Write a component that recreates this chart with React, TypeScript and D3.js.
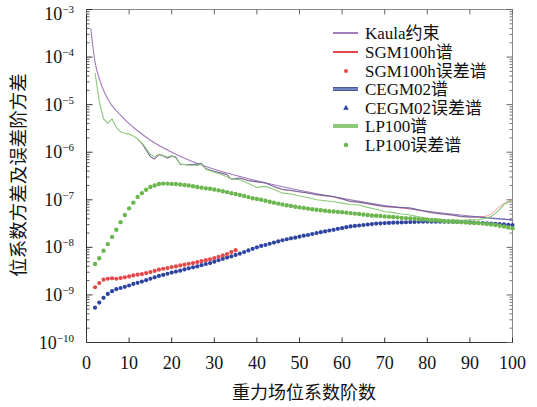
import React from 'react';
import * as d3 from 'd3';

const W = 537;
const H = 407;

const xTickValues = [0, 10, 20, 30, 40, 50, 60, 70, 80, 90, 100];
const yExponents = [-3, -4, -5, -6, -7, -8, -9, -10];

// Kaula constraint (degree, value)
const kaulaDeg = [1, 2, 3, 4, 5, 6, 8, 10, 12, 15, 20, 25, 30, 40, 50, 60, 70, 80, 90, 100];
const kaulaVal = [3.98e-4, 7.94e-5, 3.55e-5, 2.0e-5, 1.32e-5, 9.55e-6, 6.03e-6, 3.98e-6, 2.82e-6, 1.78e-6, 1.0e-6, 6.31e-7, 4.37e-7, 2.51e-7, 1.58e-7, 1.07e-7, 7.59e-8, 5.75e-8, 4.57e-8, 3.8e-8];

// LP100 spectrum
const lpDeg = [2, 3, 4, 5, 6, 7, 8, 9, 10, 11, 12, 13, 14, 15, 16, 17, 18, 19, 20, 21, 22, 24, 26, 27, 28, 30, 32, 34, 36, 38, 40, 42, 44, 46, 48, 50, 52, 54, 56, 58, 60, 62, 64, 66, 68, 70, 72, 74, 76, 78, 80, 82, 84, 86, 88, 90, 92, 94, 95, 96, 97, 98, 99, 100];
const lpVal = [4.68e-5, 1.17e-5, 5.01e-6, 4.07e-6, 5.01e-6, 3.31e-6, 2.69e-6, 2.51e-6, 2.4e-6, 2.19e-6, 1.91e-6, 1.58e-6, 1.2e-6, 8.91e-7, 7.94e-7, 9.12e-7, 8.51e-7, 7.94e-7, 8.51e-7, 7.59e-7, 5.62e-7, 5.37e-7, 5.25e-7, 5.62e-7, 4.37e-7, 3.8e-7, 3.31e-7, 2.75e-7, 2.63e-7, 2.19e-7, 1.82e-7, 1.91e-7, 1.66e-7, 1.38e-7, 1.32e-7, 1.2e-7, 1.12e-7, 1.0e-7, 9.55e-8, 9.12e-8, 8.51e-8, 7.94e-8, 7.76e-8, 6.92e-8, 6.31e-8, 5.62e-8, 5.37e-8, 5.01e-8, 4.79e-8, 4.37e-8, 4.07e-8, 3.98e-8, 3.8e-8, 3.8e-8, 3.72e-8, 3.8e-8, 3.8e-8, 4.17e-8, 4.47e-8, 5.25e-8, 6.31e-8, 7.94e-8, 8.91e-8, 1.0e-7];

// CEGM02 spectrum
const cegmDeg = [12, 13, 14, 15, 16, 17, 18, 19, 20, 21, 22, 24, 26, 27, 28, 30, 32, 33, 34, 36, 38, 40, 42, 44, 46, 48, 50, 52, 54, 56, 58, 60, 62, 64, 66, 68, 70, 72, 74, 76, 78, 80, 82, 84, 86, 88, 90, 92, 94, 96, 98, 100];
const cegmVal = [1.91e-6, 1.55e-6, 1.1e-6, 7.94e-7, 7.24e-7, 8.91e-7, 8.32e-7, 7.59e-7, 8.32e-7, 7.94e-7, 5.5e-7, 5.5e-7, 5.62e-7, 5.89e-7, 4.47e-7, 3.98e-7, 3.55e-7, 3.39e-7, 2.69e-7, 2.88e-7, 2.51e-7, 2.4e-7, 2.24e-7, 1.91e-7, 1.66e-7, 1.58e-7, 1.48e-7, 1.38e-7, 1.29e-7, 1.23e-7, 1.17e-7, 1.05e-7, 9.12e-8, 8.91e-8, 8.32e-8, 7.76e-8, 7.24e-8, 7.08e-8, 6.92e-8, 6.76e-8, 6.17e-8, 5.62e-8, 5.25e-8, 5.01e-8, 4.79e-8, 4.47e-8, 4.37e-8, 4.37e-8, 4.17e-8, 3.98e-8, 3.89e-8, 3.72e-8];

// SGM100h spectrum
const sgmDeg = [12, 13, 14, 15, 16, 17, 18, 19, 20, 21, 22, 24, 26, 27, 28, 30, 32, 33, 34, 36, 38, 40, 42, 44, 46, 48, 50, 52, 54, 56, 58, 60, 62, 64, 66, 68, 70, 72, 74, 76, 78, 80, 82, 84, 86, 88, 90, 92, 94, 95, 96, 97, 98, 99, 100];
const sgmVal = [1.91e-6, 1.51e-6, 1.12e-6, 8.13e-7, 7.08e-7, 8.71e-7, 8.51e-7, 7.41e-7, 8.13e-7, 7.76e-7, 5.62e-7, 5.37e-7, 5.5e-7, 5.75e-7, 4.57e-7, 3.89e-7, 3.63e-7, 3.31e-7, 2.75e-7, 2.82e-7, 2.57e-7, 2.34e-7, 2.29e-7, 1.86e-7, 1.62e-7, 1.55e-7, 1.45e-7, 1.41e-7, 1.26e-7, 1.2e-7, 1.15e-7, 1.02e-7, 9.33e-8, 8.71e-8, 8.13e-8, 7.59e-8, 7.08e-8, 6.92e-8, 6.76e-8, 6.61e-8, 6.03e-8, 5.5e-8, 5.13e-8, 4.9e-8, 4.68e-8, 4.37e-8, 4.27e-8, 4.27e-8, 4.57e-8, 5.01e-8, 6.03e-8, 7.24e-8, 8.32e-8, 9.33e-8, 1.05e-7];

// Error degree variances, one value per degree starting at degree 2
const errStartDeg = 2;
const sgmErr = [1.45e-9, 1.78e-9, 2.09e-9, 2.19e-9, 2.24e-9, 2.19e-9, 2.26e-9, 2.34e-9, 2.45e-9, 2.57e-9,
  2.66e-9, 2.75e-9, 2.88e-9, 3.02e-9, 3.2e-9, 3.39e-9, 3.55e-9, 3.67e-9, 3.85e-9, 3.98e-9,
  4.17e-9, 4.32e-9, 4.52e-9, 4.68e-9, 4.9e-9, 5.13e-9, 5.37e-9, 5.62e-9, 5.96e-9, 6.31e-9,
  6.76e-9, 7.24e-9, 7.94e-9, 8.71e-9];
const cegmErr = [5.4e-10, 6.9e-10, 8.7e-10, 1.05e-9, 1.2e-9, 1.32e-9, 1.4e-9, 1.48e-9, 1.58e-9, 1.7e-9,
  1.8e-9, 1.91e-9, 2.04e-9, 2.19e-9, 2.34e-9, 2.51e-9, 2.63e-9, 2.79e-9, 2.95e-9, 3.09e-9,
  3.24e-9, 3.43e-9, 3.63e-9, 3.8e-9, 3.98e-9, 4.22e-9, 4.47e-9, 4.68e-9, 5.01e-9, 5.37e-9,
  5.75e-9, 6.1e-9, 6.46e-9, 6.92e-9, 7.41e-9, 7.94e-9, 8.61e-9, 9.33e-9, 1.0e-8, 1.07e-8,
  1.12e-8, 1.19e-8, 1.26e-8, 1.33e-8, 1.41e-8, 1.48e-8, 1.55e-8, 1.6e-8, 1.68e-8, 1.76e-8,
  1.82e-8, 1.91e-8, 2.0e-8, 2.09e-8, 2.16e-8, 2.26e-8, 2.34e-8, 2.45e-8, 2.54e-8, 2.66e-8,
  2.75e-8, 2.82e-8, 2.88e-8, 2.95e-8, 3.02e-8, 3.09e-8, 3.16e-8, 3.2e-8, 3.24e-8, 3.27e-8,
  3.3e-8, 3.32e-8, 3.35e-8, 3.37e-8, 3.4e-8, 3.43e-8, 3.47e-8, 3.46e-8, 3.48e-8, 3.47e-8,
  3.45e-8, 3.47e-8, 3.46e-8, 3.45e-8, 3.44e-8, 3.42e-8, 3.4e-8, 3.37e-8, 3.34e-8, 3.31e-8,
  3.28e-8, 3.24e-8, 3.2e-8, 3.16e-8, 3.12e-8, 3.07e-8, 3.03e-8, 2.99e-8, 2.95e-8];
const lpErr = [4.47e-9, 5.89e-9, 8.51e-9, 1.17e-8, 1.66e-8, 2.34e-8, 3.39e-8, 4.79e-8, 6.61e-8, 8.71e-8,
  1.15e-7, 1.38e-7, 1.62e-7, 1.86e-7, 2.0e-7, 2.14e-7, 2.19e-7, 2.19e-7, 2.16e-7, 2.14e-7,
  2.09e-7, 2.04e-7, 2.0e-7, 1.93e-7, 1.86e-7, 1.8e-7, 1.74e-7, 1.7e-7, 1.64e-7, 1.58e-7,
  1.51e-7, 1.45e-7, 1.38e-7, 1.32e-7, 1.26e-7, 1.2e-7, 1.14e-7, 1.08e-7, 1.04e-7, 1.0e-7,
  9.55e-8, 9.12e-8, 8.71e-8, 8.32e-8, 7.94e-8, 7.67e-8, 7.41e-8, 7.16e-8, 6.92e-8, 6.76e-8,
  6.53e-8, 6.31e-8, 6.17e-8, 6.03e-8, 5.89e-8, 5.75e-8, 5.69e-8, 5.56e-8, 5.5e-8, 5.37e-8,
  5.25e-8, 5.13e-8, 5.01e-8, 4.9e-8, 4.79e-8, 4.68e-8, 4.62e-8, 4.57e-8, 4.47e-8, 4.42e-8,
  4.37e-8, 4.27e-8, 4.17e-8, 4.12e-8, 4.07e-8, 3.98e-8, 3.89e-8, 3.85e-8, 3.8e-8, 3.72e-8,
  3.72e-8, 3.63e-8, 3.55e-8, 3.51e-8, 3.47e-8, 3.43e-8, 3.39e-8, 3.35e-8, 3.31e-8, 3.27e-8,
  3.24e-8, 3.16e-8, 3.09e-8, 3.02e-8, 2.95e-8, 2.85e-8, 2.75e-8, 2.63e-8, 2.51e-8];

const legendLabels = ['Kaula约束', 'SGM100h谱', 'SGM100h误差谱', 'CEGM02谱', 'CEGM02误差谱', 'LP100谱', 'LP100误差谱'];

const C_KAULA = '#a27bb8';
const C_SGM = '#e5484a';
const C_CEGM = '#4a5ba6';
const C_CEGM_DOT = '#2f44a0';
const C_LP = '#8cc97a';
const C_LP_DOT = '#6cb64f';

const SERIF = '"Liberation Serif", "Times New Roman", "Noto Sans CJK SC", serif';

export default function App() {
  const x = d3.scaleLinear().domain([0, 100]).range([86.5, 512.5]);
  const y = d3.scaleLog().domain([1e-10, 1e-3]).range([342.5, 9.5]);

  const pair = (degs: number[], vals: number[]) => degs.map((d, i) => [d, vals[i]] as [number, number]);
  const line = d3.line<[number, number]>().x(d => x(d[0])).y(d => y(d[1]));
  const smooth = d3.line<[number, number]>().x(d => x(d[0])).y(d => y(d[1])).curve(d3.curveMonotoneX);

  const minorTicks: number[] = [];
  for (let e = -10; e < -3; e++) {
    for (let k = 2; k <= 9; k++) minorTicks.push(k * Math.pow(10, e));
  }

  const left = 86.5, right = 512.5, top = 9.5, bottom = 342.5;

  const dots = (vals: number[], color: string, r: number) =>
    vals.map((v, i) => (
      <circle key={i} cx={x(errStartDeg + i)} cy={y(v)} r={r} fill={color} />
    ));

  const legendY = [33, 52, 71, 89, 108, 126, 145];

  return (
    <svg width={W} height={H} style={{ position: 'absolute', left: 0, top: 0, background: '#fff' }} fontFamily={SERIF}>
      <rect x={0} y={0} width={W} height={H} fill="#fff" />
      {/* frame */}
      <line x1={left} x2={right} y1={top} y2={top} stroke="#8a8a8a" strokeWidth={1} />
      <line x1={right} x2={right} y1={top} y2={bottom} stroke="#8a8a8a" strokeWidth={1} />
      <line x1={left} x2={left} y1={top} y2={bottom} stroke="#333" strokeWidth={1} />
      <line x1={left} x2={right} y1={bottom} y2={bottom} stroke="#333" strokeWidth={1} />

      {/* x ticks */}
      {xTickValues.map(t => (
        <g key={'xt' + t}>
          <line x1={x(t)} x2={x(t)} y1={bottom} y2={bottom - 5} stroke="#333" />
          <line x1={x(t)} x2={x(t)} y1={top} y2={top + 5} stroke="#666" />
          <text x={x(t)} y={369} textAnchor="middle" fontSize={18} fill="#111">{t}</text>
        </g>
      ))}

      {/* y ticks */}
      {yExponents.map(e => {
        const v = Math.pow(10, e);
        const base = Math.max(y(v) + 6, 20);
        return (
          <g key={'yt' + e}>
            <line x1={left} x2={left + 6} y1={y(v)} y2={y(v)} stroke="#333" />
            <line x1={right} x2={right - 6} y1={y(v)} y2={y(v)} stroke="#666" />
            <text x={74} y={base} textAnchor="end" fontSize={18} fill="#111">
              10<tspan dy={-7} fontSize={11}>−{Math.abs(e)}</tspan>
            </text>
          </g>
        );
      })}
      {minorTicks.map((v, i) => (
        <g key={'mt' + i}>
          <line x1={left} x2={left + 3} y1={y(v)} y2={y(v)} stroke="#555" />
          <line x1={right} x2={right - 3} y1={y(v)} y2={y(v)} stroke="#777" />
        </g>
      ))}

      {/* spectra lines */}
      <path d={smooth(pair(kaulaDeg, kaulaVal)) || ''} fill="none" stroke={C_KAULA} strokeWidth={1.1} />
      <path d={line(pair(sgmDeg, sgmVal)) || ''} fill="none" stroke={C_SGM} strokeOpacity={0.55} strokeWidth={1} />
      <path d={line(pair(cegmDeg, cegmVal)) || ''} fill="none" stroke={C_CEGM} strokeOpacity={0.85} strokeWidth={1} />
      <path d={line(pair(lpDeg, lpVal)) || ''} fill="none" stroke={C_LP} strokeWidth={1.1} />

      {/* error dots */}
      {dots(cegmErr, C_CEGM_DOT, 2.1)}
      {dots(sgmErr, C_SGM, 2.1)}
      {dots(lpErr, C_LP_DOT, 2.2)}

      {/* legend */}
      <g>
        <line x1={333} x2={358} y1={legendY[0]} y2={legendY[0]} stroke={C_KAULA} strokeWidth={2} />
        <line x1={333} x2={358} y1={legendY[1]} y2={legendY[1]} stroke={C_SGM} strokeWidth={2} />
        <circle cx={346} cy={legendY[2]} r={2} fill={C_SGM} />
        <line x1={333} x2={358} y1={legendY[3]} y2={legendY[3]} stroke={C_CEGM} strokeWidth={4} />
        <line x1={333} x2={358} y1={legendY[3]} y2={legendY[3]} stroke="#8e9bd0" strokeWidth={1.2} />
        <path d={d3.symbol().type(d3.symbolTriangle).size(14)() || ''} transform={`translate(346,${legendY[4]})`} fill={C_CEGM_DOT} />
        <line x1={333} x2={358} y1={legendY[5]} y2={legendY[5]} stroke={C_LP} strokeWidth={4} />
        <circle cx={346} cy={legendY[6]} r={2.2} fill={C_LP_DOT} />
        {legendLabels.map((l, i) => (
          <text key={l} x={365} y={legendY[i]} dy="0.35em" fontSize={17} fill="#111">{l}</text>
        ))}
      </g>

      {/* axis titles */}
      <text x={304} y={399} textAnchor="middle" fontSize={18} fill="#111">重力场位系数阶数</text>
      <text transform="translate(25,175) rotate(-90)" textAnchor="middle" fontSize={18.5} fill="#111">位系数方差及误差阶方差</text>
    </svg>
  );
}
